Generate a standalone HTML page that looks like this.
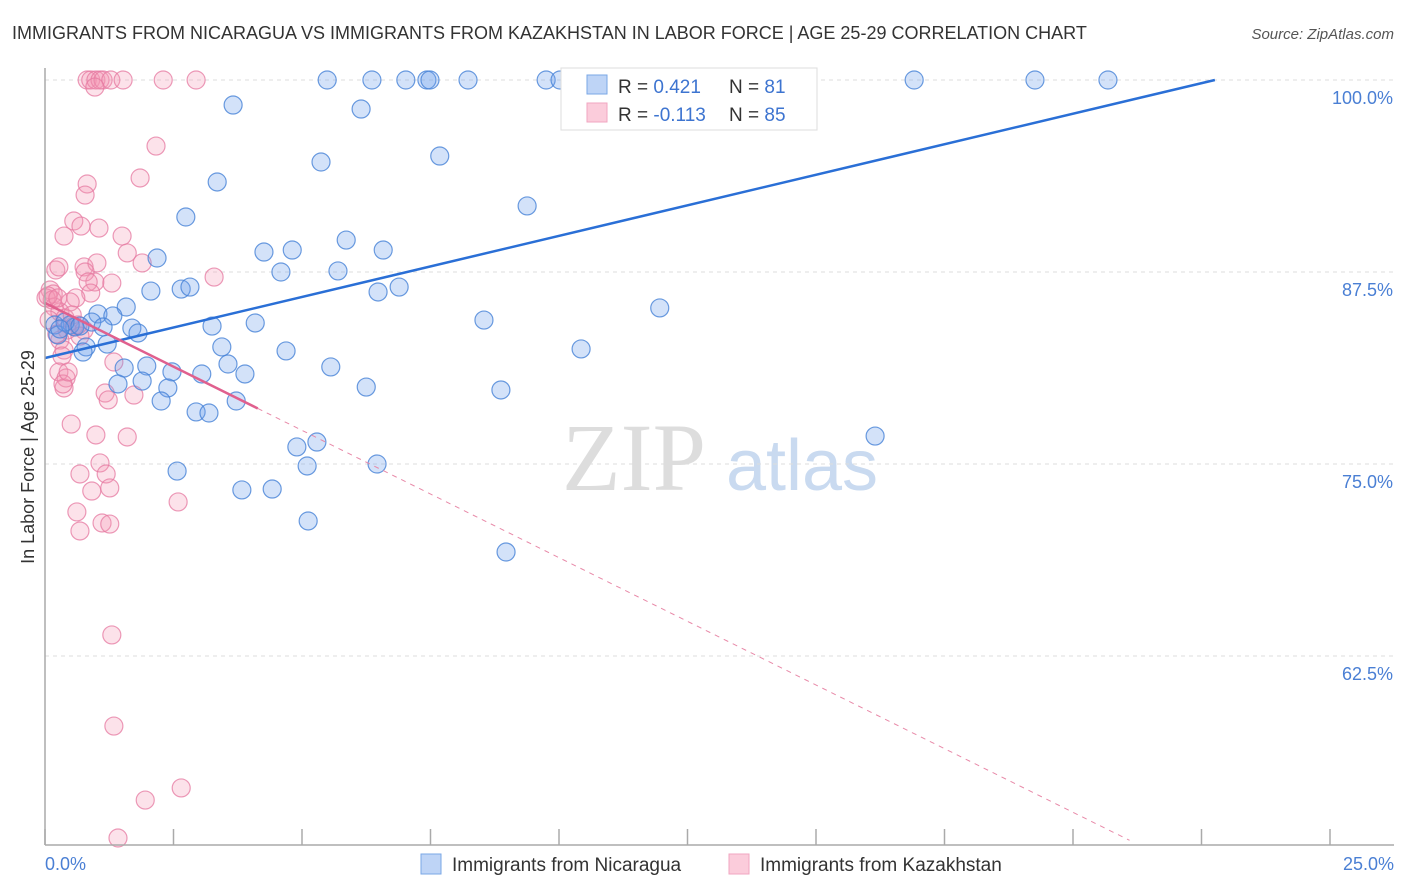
<!DOCTYPE html>
<html><head><meta charset="utf-8">
<style>
body{margin:0;background:#fff;font-family:"Liberation Sans",sans-serif;}
#wrap{position:relative;width:1406px;height:892px;overflow:hidden;}
</style></head>
<body>
<div id="wrap">
<svg id="svg" width="1406" height="892" xmlns="http://www.w3.org/2000/svg">
<text x="12" y="39" font-size="18" fill="#333">IMMIGRANTS FROM NICARAGUA VS IMMIGRANTS FROM KAZAKHSTAN IN LABOR FORCE | AGE 25-29 CORRELATION CHART</text>
<text x="1394" y="39" font-size="15" fill="#555" font-style="italic" text-anchor="end">Source: ZipAtlas.com</text>
<text x="634" y="490" font-size="96" fill="#ddd" font-family="Liberation Serif" text-anchor="middle">ZIP</text>
<text x="802" y="490" font-size="72" fill="#c9daf0" text-anchor="middle">atlas</text>
<text transform="translate(34,457) rotate(-90)" font-size="18" fill="#333" text-anchor="middle">In Labor Force | Age 25-29</text>
<g id="grid"></g><g id="ticks"></g><g id="pts"></g><g id="trend"></g>
<line x1="45" y1="68" x2="45" y2="845" stroke="#aaa" stroke-width="1.5"/>
<line x1="45" y1="845" x2="1394" y2="845" stroke="#aaa" stroke-width="1.5"/>
<text x="45" y="870" font-size="18" fill="#4a7fd4">0.0%</text>
<text x="1394" y="870" font-size="18" fill="#4a7fd4" text-anchor="end">25.0%</text>
<g>
<rect x="561" y="68" width="256" height="62" fill="#fff" stroke="#ddd"/>
<rect x="587" y="75" width="20" height="19" fill="rgba(110,160,235,0.45)" stroke="#7aa7e6"/>
<rect x="587" y="103" width="20" height="19" fill="rgba(248,170,195,0.6)" stroke="#f0a6c0"/>
<text x="618" y="93" font-size="19" fill="#333">R = <tspan fill="#3d74d0">0.421</tspan></text>
<text x="729" y="93" font-size="19" fill="#333">N = <tspan fill="#3d74d0"> 81</tspan></text>
<text x="618" y="121" font-size="19" fill="#333">R = <tspan fill="#3d74d0">-0.113</tspan></text>
<text x="729" y="121" font-size="19" fill="#333">N = <tspan fill="#3d74d0">85</tspan></text>
</g>
<g>
<rect x="421" y="854" width="20" height="20" fill="rgba(110,160,235,0.45)" stroke="#7aa7e6"/>
<text x="452" y="871" font-size="19" fill="#333">Immigrants from Nicaragua</text></g>
<g>
<rect x="729" y="854" width="20" height="20" fill="rgba(248,170,195,0.6)" stroke="#f0a6c0"/>
<text x="760" y="871" font-size="19" fill="#333">Immigrants from Kazakhstan</text></g>
</svg>
</div>
<script>
const yTicks=[100,87.5,75,62.5];
const yTickLabels=["100.0%","87.5%","75.0%","62.5%"];
const xTicks=[0,2.5,5,7.5,10,12.5,15,17.5,20,22.5,25];
const blueX=[5.49,6.36,7.02,7.43,7.49,8.23,9.75,10.02,10.74,16.91,19.26,20.68,3.66,6.15,5.37,7.68,3.35,9.38,2.74,5.86,4.26,4.81,6.58,2.18,4.59,5.7,2.06,2.65,2.82,6.48,6.89,1.58,11.96,1.03,1.32,8.54,3.25,4.09,0.19,0.91,1.13,1.69,1.81,0.25,0.8,1.21,3.44,4.69,10.43,0.74,1.54,1.98,2.47,3.56,5.56,3.05,3.89,1.42,1.89,2.39,6.25,8.87,2.26,3.72,2.94,3.19,16.15,4.9,5.29,2.57,5.1,6.46,3.83,4.42,5.12,8.97,0.49,0.58,0.39,0.29,0.68];
const blueY=[100,100,100,100,100,100,100,100,99.8,100,100,100,98.37,98.11,94.66,95.05,93.36,91.8,91.08,89.58,88.8,88.93,88.93,88.41,87.5,87.57,86.26,86.39,86.52,86.2,86.52,85.22,85.16,84.77,84.64,84.37,83.98,84.18,84.05,84.24,83.92,83.85,83.53,83.4,82.62,82.81,82.62,82.36,82.49,82.29,81.25,81.38,81.0,81.51,81.32,80.86,80.86,80.21,80.4,79.95,80.01,79.82,79.1,79.1,78.39,78.32,76.82,76.11,76.43,74.54,74.87,75.0,73.31,73.37,71.29,69.27,84.05,83.92,84.24,83.79,83.98];
const pinkX=[0.82,0.89,0.99,1.07,1.13,1.28,1.52,2.3,2.94,0.97,2.16,1.85,0.82,0.78,0.56,0.7,1.05,0.37,1.5,1.6,0.76,1.01,1.89,0.21,0.27,3.29,0.97,0.78,1.3,0.84,0.1,0.16,0.02,0.89,0.6,0.49,0.18,0.29,0.08,0.39,0.56,0.76,0.43,0.29,0.68,0.37,0.33,1.34,0.27,0.41,0.37,1.17,1.73,1.23,0.51,0.99,1.6,1.07,0.68,1.19,0.91,1.26,2.59,0.62,1.11,1.26,0.68,1.3,1.34,1.95,2.65,1.42,0.35,0.45,0.23,0.53,0.14,0.06,0.25,0.64];
const pinkY=[100,100,100,100,100,100,100,100,100,99.54,95.7,93.62,93.23,92.51,90.82,90.49,90.36,89.84,89.84,88.74,87.83,88.09,88.09,87.63,87.83,87.17,86.85,87.5,86.78,86.85,86.33,86.07,85.81,86.13,85.81,85.55,85.22,84.9,84.38,84.5,83.98,83.72,83.72,83.07,83.33,82.42,82.03,81.64,80.99,80.6,79.95,79.62,79.49,79.17,77.6,76.89,76.76,75.07,74.35,74.35,73.24,73.44,72.53,71.88,71.16,71.09,70.64,63.87,57.94,53.12,53.91,50.65,80.21,80.99,83.46,84.7,85.68,85.94,85.81,84.05];
const blueTrend=[0,81.9,22.76,100];
const pinkTrend=[0,85.48,4.14,21.1,50.5];
const NS="http://www.w3.org/2000/svg";
const X=v=>45+v*51.4, Y=v=>80+(100-v)*15.36;
function mk(t,a,p){const e=document.createElementNS(NS,t);for(const k in a)e.setAttribute(k,a[k]);p.appendChild(e);return e;}
const grid=document.getElementById('grid'),ticks=document.getElementById('ticks'),pts=document.getElementById('pts'),tr=document.getElementById('trend');
yTicks.forEach((v,i)=>{
 const l=mk('line',{x1:45,x2:1394,y1:Y(v),y2:Y(v),stroke:'#ddd','stroke-dasharray':'4,4'},grid);
 
 
 const t=mk('text',{x:1393,y:Y(v)+24,'font-size':18,fill:'#4a7fd4','text-anchor':'end'},grid);
 t.textContent=yTickLabels[i];
 
 
});
xTicks.forEach(v=>{
 const l=mk('line',{x1:X(v),x2:X(v),y1:829,y2:845,stroke:'#aaa','stroke-width':1.5},ticks);
 
 
});
function dots(xs,ys,fill,stroke,name){xs.forEach((x,i)=>{
 const c=mk('circle',{cx:X(x),cy:Y(ys[i]),r:9,fill:fill,stroke:stroke,'stroke-width':1.2},pts);
 
 
});}
dots(pinkX,pinkY,'rgba(245,150,180,0.28)','rgba(230,120,160,0.75)','kazakhstan-point');
dots(blueX,blueY,'rgba(110,160,235,0.3)','rgba(70,130,215,0.8)','nicaragua-point');
let l=mk('line',{x1:X(blueTrend[0]),y1:Y(blueTrend[1]),x2:X(blueTrend[2]),y2:Y(blueTrend[3]),stroke:'#2a6fd6','stroke-width':2.5},tr);


const ps=(pinkTrend[4]-pinkTrend[1])/(pinkTrend[3]-pinkTrend[0]);
const ySolid=pinkTrend[1]+ps*(pinkTrend[2]-pinkTrend[0]);
l=mk('line',{x1:X(pinkTrend[0]),y1:Y(pinkTrend[1]),x2:X(pinkTrend[2]),y2:Y(ySolid),stroke:'#e0608e','stroke-width':2.5},tr);


l=mk('line',{x1:X(pinkTrend[2]),y1:Y(ySolid),x2:X(pinkTrend[3]),y2:Y(pinkTrend[4]),stroke:'#e889a8','stroke-width':1,'stroke-dasharray':'5,5'},tr);


</script>
</body></html>
